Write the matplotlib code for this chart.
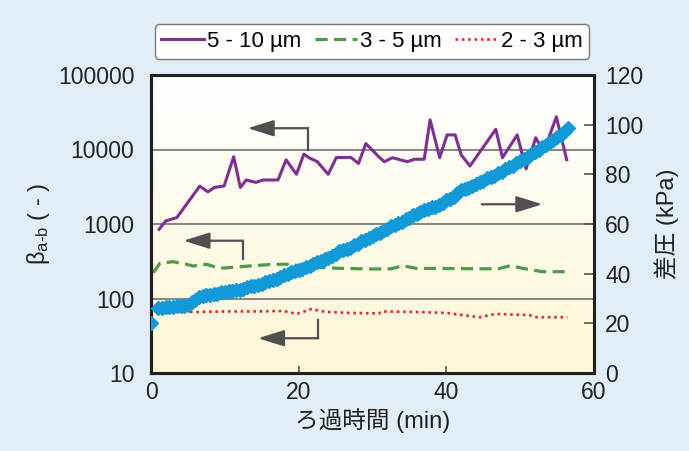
import numpy as np
import matplotlib.pyplot as plt

plt.rcParams['font.family'] = ['Liberation Sans', 'Noto Sans CJK JP', 'DejaVu Sans']
plt.rcParams['mathtext.default'] = 'regular'

# beta ratio, 5 - 10 um (left axis, log)
t_big = [1.1, 2.0, 3.5, 6.6, 7.7, 8.6, 9.9, 11.2, 12.1, 12.9, 14.2, 15.2, 17.2, 18.3, 19.7,
         20.7, 21.5, 22.5, 24.0, 25.1, 27.1, 28.1, 29.1, 30.9, 31.6, 32.7, 34.7, 35.7, 37.0,
         37.8, 39.1, 40.1, 41.2, 42.0, 43.2, 46.7, 47.6, 49.6, 50.8, 52.1, 53.2, 54.9, 56.3]
beta_big = [850, 1100, 1220, 3230, 2700, 3100, 3240, 8000, 3090, 3900, 3620, 3900, 3900, 7250, 4650,
            8660, 7650, 6900, 4650, 7800, 7800, 6500, 12000, 7900, 6860, 7760, 6860, 7400, 7400,
            25000, 7760, 15700, 15700, 8500, 6000, 18700, 7760, 15700, 5500, 14400, 9360, 27500, 7300]

# beta ratio, 3 - 5 um
t_mid = [0.3, 1.2, 3.0, 4.8, 5.7, 7.5, 9.3, 12.0, 16.5, 18.8, 21.0, 25.5, 30.0, 32.5, 34.1,
         35.9, 47.0, 48.7, 50.5, 53.0, 56.2]
beta_mid = [222, 297, 312, 288, 273, 288, 254, 267, 288, 288, 267, 254, 249, 250, 276,
            254, 250, 276, 252, 229, 229]

# beta ratio, 2 - 3 um
t_small = [1.0, 3.0, 6.0, 10.0, 14.0, 18.0, 19.7, 20.6, 21.7, 23.7, 27.0, 30.9, 31.2, 35.9,
           40.0, 44.5, 46.7, 51.2, 52.3, 56.4]
beta_small = [70, 67, 66, 67, 67, 68, 62, 66, 72, 66, 64, 63, 67, 66, 64, 56, 62, 60, 56, 56]

# differential pressure (right axis)
t_dp = [0.0] + [1.0 + 0.5 * i for i in range(112)]
dp = [20,
      26, 26, 26.5, 26.5, 26.5, 27, 27, 27, 27.5, 28.5, 29.5, 30.5, 31, 31.5, 31.5, 32,
      32, 32.5, 32.5, 33, 33, 33.5, 33.5, 34, 34.5, 35, 35, 35.5, 36, 36.5, 37, 37.5,
      38, 38.5, 39.5, 40, 40.5, 41, 41.5, 42, 42.5, 43, 44, 44.5, 45, 46, 46.5, 47,
      48, 49, 49.5, 50, 50.5, 51.5, 52, 53, 53.5, 54.5, 55, 56, 56.5, 57.5, 58, 59,
      59.5, 60.5, 61, 62, 62.5, 63.5, 64, 65, 65.5, 66, 67, 67, 67.5, 68.5, 69.5, 70,
      71, 72.5, 73.5, 74, 74.5, 75.5, 76, 77, 77.5, 78.5, 79, 79.5, 80.5, 81, 82, 83,
      83.5, 84.5, 85.5, 86, 87, 88, 89, 90, 91, 92, 93, 94, 95, 96, 97, 98.5]

fig = plt.figure(figsize=(6.89, 4.51), dpi=100, facecolor='#e1eef8')
ax = fig.add_axes([151 / 689, 1 - 373 / 451, 443 / 689, 298 / 451])
ax2 = ax.twinx()

# background gradient white -> pale yellow
grad = np.linspace(0, 1, 256).reshape(-1, 1)
top = np.array([1.0, 1.0, 1.0])
bot = np.array([253, 247, 214]) / 255
img = top + (bot - top) * grad[:, :, None]
ax.imshow(img, extent=[0, 1, 0, 1], transform=ax.transAxes, aspect='auto', zorder=0)

ax.set_yscale('log')
ax.set_xlim(0, 60)
ax.set_ylim(10, 100000)
ax2.set_ylim(0, 120)

for v in [100, 1000, 10000]:
    ax.axhline(v, color='#858585', lw=1.4, zorder=1)

l1, = ax.plot(t_big, beta_big, color='#7d3090', lw=2.2, zorder=3, label='5 - 10 µm')
l2, = ax.plot(t_mid, beta_mid, color='#4e9a48', lw=2.3, ls=(0, (3.8, 2.0)), zorder=3, label='3 - 5 µm')
l3, = ax.plot(t_small, beta_small, color='#e8262a', lw=1.9, ls=(0, (1, 1.4)), zorder=3, label='2 - 3 µm')
ax2.plot(t_dp, dp, ls='none', marker='D', ms=7.2, color='#129ad8', mec='#129ad8', zorder=4)

# arrows
ac = '#505050'
astyle = dict(arrowstyle='-|>,head_length=1.6,head_width=0.5', color=ac, lw=1.6,
              shrinkA=0, shrinkB=0)
ax.plot([21.2, 21.2], [10000, 19300], color=ac, lw=1.6, zorder=2)
ax.annotate('', xy=(13.1, 19300), xytext=(21.25, 19300), arrowprops=astyle)
ax.plot([12.4, 12.4], [336, 597], color=ac, lw=1.6, zorder=2)
ax.annotate('', xy=(4.4, 597), xytext=(12.45, 597), arrowprops=astyle)
ax.plot([22.6, 22.6], [51.4, 29.3], color=ac, lw=1.6, zorder=2)
ax.annotate('', xy=(14.5, 29.3), xytext=(22.65, 29.3), arrowprops=astyle)
ax.annotate('', xy=(53.0, 1840), xytext=(44.8, 1840), arrowprops=astyle)

ax.set_xticks([0, 20, 40, 60])
ax.set_yticks([10, 100, 1000, 10000, 100000])
ax.set_yticklabels(['10', '100', '1000', '10000', '100000'])
ax.yaxis.set_minor_locator(plt.NullLocator())
ax2.set_yticks(range(0, 121, 20))

ax.tick_params(axis='y', length=0, pad=12, labelsize=16.5, colors='#222222')
ax.tick_params(axis='x', direction='in', length=5, width=1.2, pad=6, labelsize=16.5,
               color='#555555', labelcolor='#222222')
ax2.tick_params(axis='y', direction='in', length=7, width=1.2, pad=8, labelsize=16.5,
                color='#555555', labelcolor='#222222')

for a in (ax, ax2):
    for s in a.spines.values():
        s.set_linewidth(2.2)
        s.set_color('#231f20')

ax.set_xlabel('ろ過時間 (min)', fontsize=17, labelpad=3, color='#222222')
ax.set_ylabel(r'β$_{a‐b}$ ( - )', fontsize=17, labelpad=4, color='#222222')
ax2.set_ylabel('差圧 (kPa)', fontsize=17, labelpad=8, color='#222222')

leg = fig.legend(handles=[l1, l2, l3], loc='center', ncol=3, fontsize=16,
                 bbox_to_anchor=(372 / 689, 1 - 41.5 / 451),
                 handlelength=1.9, handletextpad=0.15, columnspacing=0.6, borderpad=0.3,
                 fancybox=True, framealpha=1, edgecolor='#777777', borderaxespad=0)
leg.get_frame().set_linewidth(1.0)

fig.savefig('out.png', dpi=100, facecolor=fig.get_facecolor())
